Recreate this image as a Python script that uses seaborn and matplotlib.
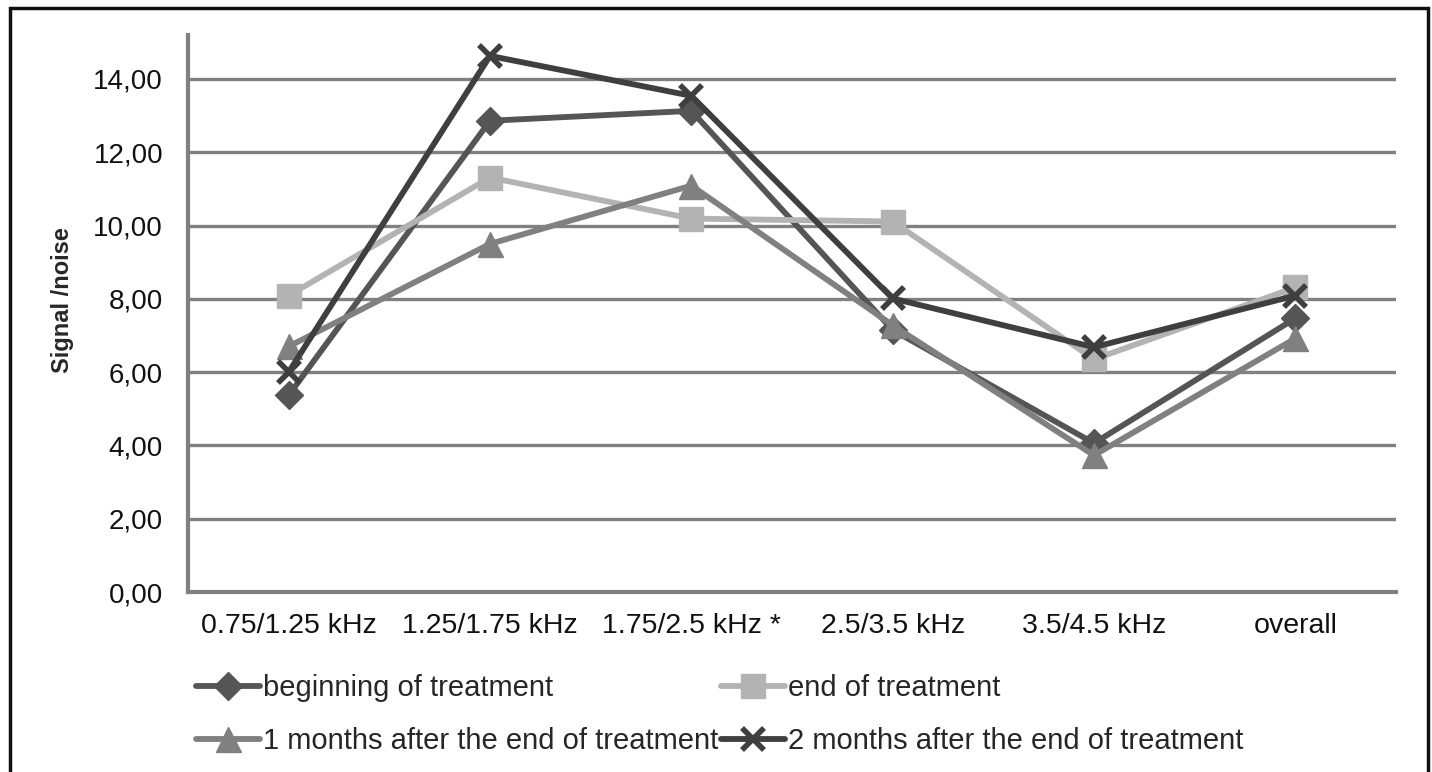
import matplotlib
matplotlib.use("Agg")
import matplotlib.pyplot as plt
from matplotlib.patches import Rectangle
import seaborn as sns

# Frequency bands on the x axis
bands = ["0.75/1.25 kHz", "1.25/1.75 kHz", "1.75/2.5 kHz *", "2.5/3.5 kHz",
         "3.5/4.5 kHz", "overall"]

# Signal/noise ratio per band for each measurement time
beginning = [5.37, 12.86, 13.13, 7.15, 4.06, 7.47]
end_of_treatment = [8.09, 11.31, 10.19, 10.11, 6.35, 8.31]
one_month_after = [6.70, 9.50, 11.09, 7.28, 3.73, 6.92]
two_months_after = [6.00, 14.63, 13.54, 8.01, 6.68, 8.09]

series_labels = ["beginning of treatment", "end of treatment",
                 "1 months after the end of treatment",
                 "2 months after the end of treatment"]
y_ticks = [0, 2, 4, 6, 8, 10, 12, 14]
y_tick_labels = ["0,00", "2,00", "4,00", "6,00", "8,00", "10,00", "12,00", "14,00"]

sns.set_theme(style="white")
plt.rcParams["font.family"] = ["Liberation Sans", "DejaVu Sans"]

fig = plt.figure(figsize=(14.32, 7.72), dpi=100)
ax = fig.add_axes([188 / 1432, 1 - 592 / 772, (1396 - 188) / 1432, (592 - 35) / 772])

# horizontal gridlines
for t in y_ticks[1:]:
    ax.axhline(t, color="#808080", lw=2.4, zorder=0)

styles = [
    (beginning, "#555555", "D", 14, 0),
    (end_of_treatment, "#b3b3b3", "s", 17, 0),
    (one_month_after, "#808080", "^", 18, 0),
    (two_months_after, "#3f3f3f", "x", 16, 4),
]
for (vals, col, mk, ms, mew), lab in zip(styles, series_labels):
    sns.lineplot(x=bands, y=vals, ax=ax, color=col, lw=4.2, marker=mk,
                 markersize=ms, markeredgecolor=col,
                 markeredgewidth=mew if mew else 1, label=lab, sort=False)

ax.set_xlim(-0.5, 5.5)
ax.set_ylim(0, 15.2)
ax.set_yticks(y_ticks)
ax.set_yticklabels(y_tick_labels)
ax.set_xlabel("")
ax.set_ylabel("Signal /noise", fontsize=17, fontweight="bold")
ax.yaxis.set_label_coords((74 - 188) / 1208, 0.524)
ax.tick_params(axis="both", colors="#111111", length=0)
ax.tick_params(axis="x", labelsize=20.5, pad=15)
ax.tick_params(axis="y", labelsize=20, pad=18)
for s in ["top", "right"]:
    ax.spines[s].set_visible(False)
for s in ["left", "bottom"]:
    ax.spines[s].set_color("#808080")
    ax.spines[s].set_linewidth(3)

# legend laid out row by row: two entries per row
handles, labels = ax.get_legend_handles_labels()
ax.get_legend().remove()
order = [0, 2, 1, 3]
fig.legend([handles[i] for i in order], [labels[i] for i in order],
           loc="upper left", ncol=2, frameon=False,
           bbox_to_anchor=(196 / 1432, 1 - 674 / 772), fontsize=21,
           handlelength=2.2, handletextpad=0.1, columnspacing=0.1,
           labelspacing=0.85, borderpad=0, borderaxespad=0)

# outer frame
fig.patches.append(Rectangle((10 / 1432, -0.05), (1428 - 10) / 1432, 1.05 - 8 / 772,
                             transform=fig.transFigure, fill=False,
                             edgecolor="#111111", lw=2.5, zorder=10))

fig.savefig("out.png", dpi=100)
